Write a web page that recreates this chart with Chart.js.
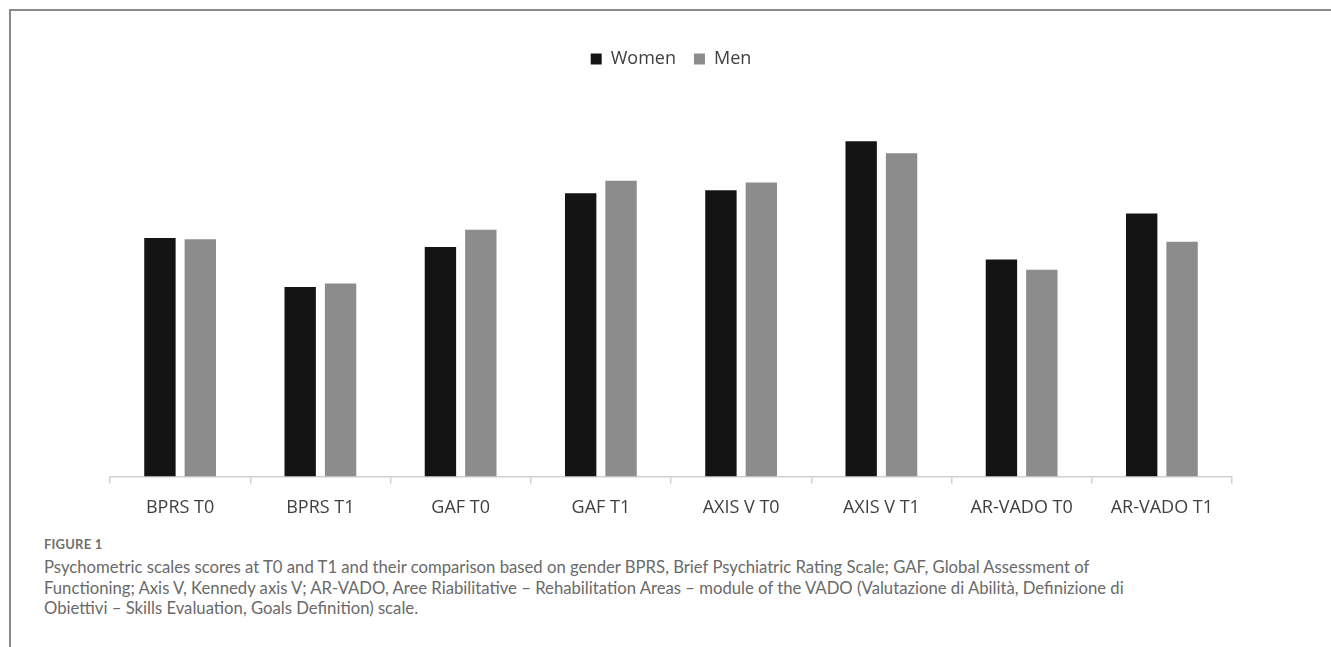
<!DOCTYPE html>
<html>
<head>
<meta charset="utf-8">
<script src="https://cdn.jsdelivr.net/npm/chart.js@4"></script>
<style>
  html, body { margin: 0; padding: 0; background: #fff; }
  body { width: 1331px; height: 647px; position: relative; overflow: hidden; }
  .frame { position: absolute; left: 9px; top: 9px; width: 1330px; height: 640px;
           border-top: 2px solid #8a8a8a; border-left: 2px solid #8a8a8a; }
  #wrap { position: absolute; left: 0; top: 12px; width: 1331px; height: 521px; }
  .caption { position: absolute; left: 44px; top: 536px; width: 1280px;
             font-family: Lato, "Open Sans", sans-serif; color: #6a6a6a; }
  .caption .fig { font-size: 13px; font-weight: bold; color: #707070; letter-spacing: 0.2px; }
  .caption .txt { font-size: 16.7px; line-height: 20.5px; margin-top: 5px; }
</style>
</head>
<body>
<div class="frame"></div>
<div id="wrap"><canvas id="c"></canvas></div>
<div class="caption">
  <div class="fig">FIGURE 1</div>
  <div class="txt">Psychometric scales scores at T0 and T1 and their comparison based on gender BPRS, Brief Psychiatric Rating Scale; GAF, Global Assessment of<br>Functioning; Axis V, Kennedy axis V; AR-VADO, Aree Riabilitative – Rehabilitation Areas – module of the VADO (Valutazione di Abilità, Definizione di<br>Obiettivi – Skills Evaluation, Goals Definition) scale.</div>
</div>
<script>
// Scale names with the time point (T0 = baseline, T1 = follow-up)
const categories = ["BPRS T0", "BPRS T1", "GAF T0", "GAF T1", "AXIS V T0", "AXIS V T1", "AR-VADO T0", "AR-VADO T1"];
// Mean scores per group
const women = [39.9, 31.7, 38.4, 47.4, 47.9, 56.1, 36.3, 44.0];
const men   = [39.7, 32.3, 41.3, 49.5, 49.2, 54.1, 34.6, 39.3];
const seriesNames = ["Women", "Men"];

// Extra space between the legend and the bars
const legendGap = {
  id: "legendGap",
  beforeInit(chart) {
    const fit = chart.legend.fit;
    chart.legend.fit = function () {
      fit.bind(chart.legend)();
      this.height += 40;
    };
  }
};

new Chart(document.getElementById("c"), {
  type: "bar",
  data: {
    labels: categories,
    datasets: [
      { label: seriesNames[0], data: women, backgroundColor: "#141414", borderWidth: 0 },
      { label: seriesNames[1], data: men, backgroundColor: "#8c8c8c", borderWidth: 0 }
    ]
  },
  plugins: [legendGap],
  options: {
    responsive: true,
    maintainAspectRatio: false,
    animation: false,
    datasets: { bar: { categoryPercentage: 0.576, barPercentage: 0.777 } },
    layout: { padding: { left: 110, right: 99, top: 20, bottom: 0 } },
    plugins: {
      tooltip: { enabled: false },
      legend: {
        position: "top",
        labels: {
          boxWidth: 11, boxHeight: 11, padding: 18,
          color: "#404040",
          font: { family: "'Open Sans', sans-serif", size: 18 }
        }
      }
    },
    scales: {
      x: {
        grid: { display: true, drawOnChartArea: false, drawTicks: true, tickLength: 7, color: "#d0d0d0", lineWidth: 1.5, offset: true },
        border: { display: true, color: "#d0d0d0", width: 1.5 },
        ticks: { color: "#404040", padding: 14, font: { family: "'Open Sans', sans-serif", size: 18 }, maxRotation: 0 }
      },
      y: {
        display: false,
        min: 0, max: 60
      }
    }
  }
});
</script>
</body>
</html>
